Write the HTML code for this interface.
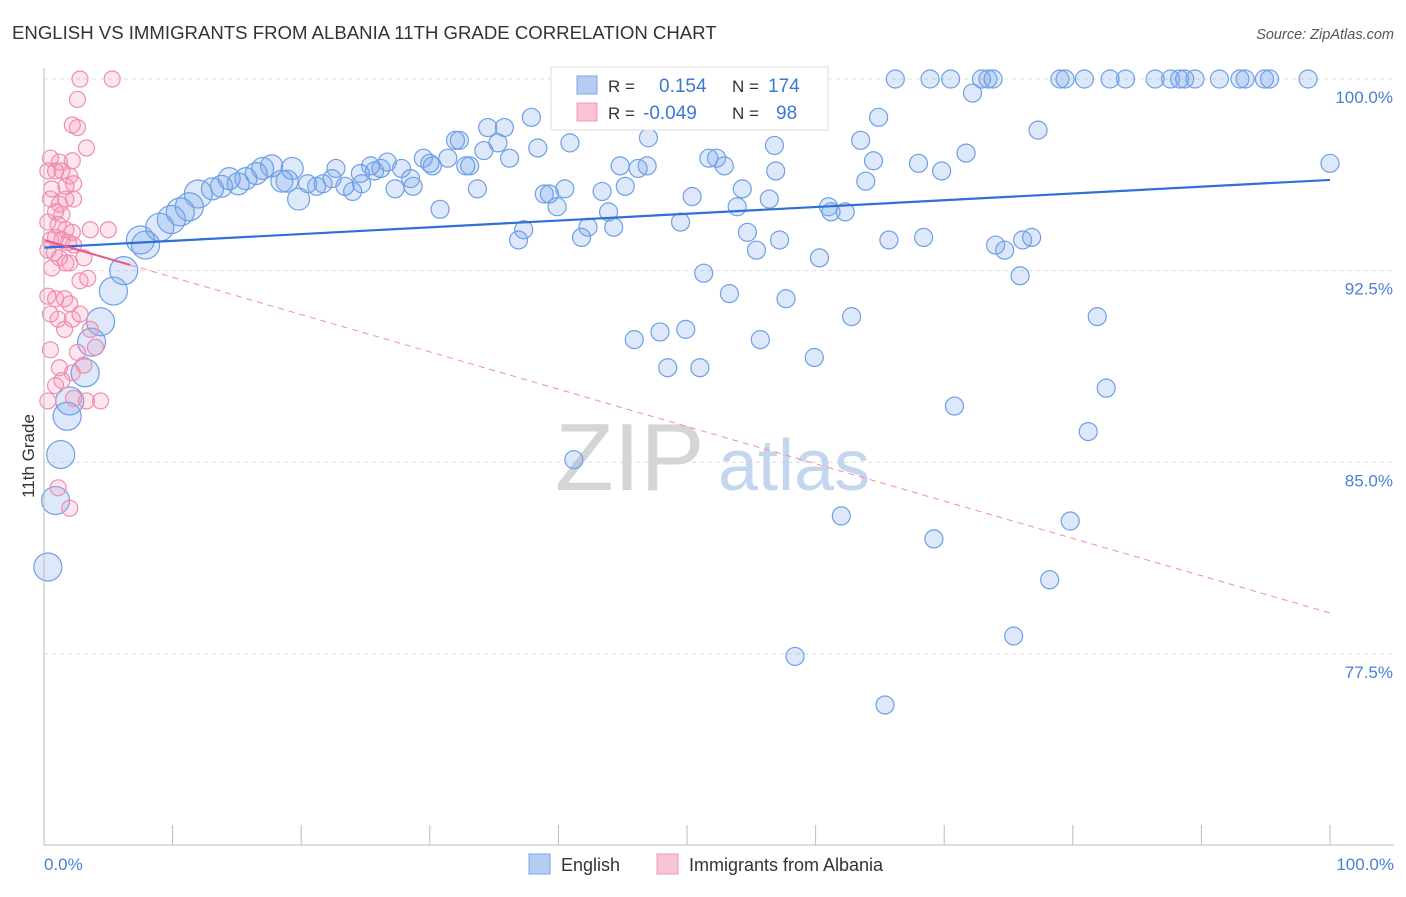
<!DOCTYPE html>
<html><head><meta charset="utf-8"><style>
body{margin:0;background:#fff;font-family:"Liberation Sans",sans-serif;}
svg text{font-family:"Liberation Sans",sans-serif;}
</style></head><body>
<svg id="chart" width="1406" height="892" viewBox="0 0 1406 892" xmlns="http://www.w3.org/2000/svg">
<text x="12" y="39" font-size="18.6" fill="#333">ENGLISH VS IMMIGRANTS FROM ALBANIA 11TH GRADE CORRELATION CHART</text>
<text x="1394" y="39" font-size="14.5" fill="#555" text-anchor="end" font-style="italic">Source: ZipAtlas.com</text>
<g id="grid"></g>
<g>
<text x="555" y="490" font-size="96" fill="#d5d5d5" font-family="Liberation Serif">ZIP</text>
<text x="718" y="490" font-size="72" fill="#c4d6ee">atlas</text>
</g>
<g id="pts"></g>
<g id="trends"></g>
<g id="axes"></g>
<text transform="translate(34,456) rotate(-90)" font-size="17" fill="#333" text-anchor="middle">11th Grade</text>
<g>
<rect x="551" y="67" width="277" height="63" fill="#fff" stroke="#ddd"/>
<rect x="577" y="76" width="20" height="18" fill="#b5cdf3" stroke="#7aa6e8"/>
<rect x="577" y="103" width="20" height="18" fill="#f9c4d5" stroke="#f09ab8"/>
<text x="608" y="92" font-size="17" fill="#333">R =</text>
<text x="659" y="92" font-size="19" fill="#3a78d8">0.154</text>
<text x="732" y="92" font-size="17" fill="#333">N =</text>
<text x="768" y="92" font-size="19" fill="#3a78d8">174</text>
<text x="608" y="119" font-size="17" fill="#333">R =</text>
<text x="643" y="119" font-size="19" fill="#3a78d8">-0.049</text>
<text x="732" y="119" font-size="17" fill="#333">N =</text>
<text x="776" y="119" font-size="19" fill="#3a78d8">98</text>
</g>
<g>
<rect x="529" y="854" width="21" height="20" fill="#b5cdf3" stroke="#7aa6e8"/>
<text x="561" y="871" font-size="18" fill="#333">English</text>
<rect x="657" y="854" width="21" height="20" fill="#f9c4d5" stroke="#f09ab8"/>
<text x="689" y="871" font-size="18" fill="#333">Immigrants from Albania</text>
</g>
</svg>
<script>
const yTicks=[100,92.5,85,77.5];
const yTickLabels=["100.0%","92.5%","85.0%","77.5%"];
const xTickLabels=["0.0%","100.0%"];
const blueX=[66.2,68.9,70.5,72.9,73.4,73.8,79.0,79.4,80.9,82.9,84.1,86.4,87.6,88.3,88.7,89.5,91.4,93.0,93.4,94.9,95.3,98.3,
100,77.3,72.2,71.7,69.8,68.0,64.9,63.5,64.5,63.9,59.4,56.8,56.9,54.3,53.9,56.4,52.3,51.7,52.9,50.4,47.0,46.9,46.2,45.2,44.8,43.4,43.9,44.3,42.3,41.8,40.9,40.5,39.3,39.9,38.9,38.4,37.9,37.3,36.9,36.2,35.8,35.3,34.5,34.2,33.7,33.1,32.8,32.0,32.3,30.8,31.4,30.2,29.5,30.0,28.7,28.5,27.8,27.3,26.7,26.2,25.7,25.4,24.7,24.6,24.0,23.4,22.7,22.4,21.7,21.2,20.5,19.8,19.3,18.9,18.5,17.7,17.0,16.5,15.7,15.1,14.4,13.8,13.1,12.0,11.3,10.6,9.9,9.0,7.9,7.5,6.2,5.4,4.4,3.7,3.2,2.0,1.8,1.3,0.9,0.3,
49.5,45.9,47.9,49.9,48.5,51.0,51.3,53.3,55.7,54.7,55.4,57.2,57.7,59.9,60.3,61.0,61.2,62.3,62.8,65.7,68.4,70.8,62.0,69.2,74.0,74.7,75.9,76.1,76.8,81.9,82.6,81.2,79.8,78.2,75.4,58.4,65.4,41.2];
const blueY=[100,100,100,100,100,100,100,100,100,100,100,100,100,100,100,100,100,100,100,100,100,100,
96.7,98.0,99.45,97.1,96.4,96.7,98.5,97.6,96.8,96.0,99.45,97.4,96.4,95.7,95.0,95.3,96.9,96.9,96.6,95.4,97.7,96.6,96.5,95.8,96.6,95.6,94.8,94.2,94.2,93.8,97.5,95.7,95.5,95.0,95.5,97.3,98.5,94.1,93.7,96.9,98.1,97.5,98.1,97.2,95.7,96.6,96.6,97.6,97.6,94.9,96.9,96.6,96.9,96.7,95.8,96.1,96.5,95.7,96.75,96.5,96.4,96.6,95.9,96.3,95.6,95.8,96.5,96.1,95.9,95.8,95.9,95.3,96.5,96.0,96.0,96.6,96.5,96.3,96.1,95.9,96.1,95.8,95.7,95.5,95.0,94.8,94.5,94.2,93.5,93.7,92.5,91.7,90.5,89.7,88.5,87.4,86.8,85.3,83.5,80.9,
94.4,89.8,90.1,90.2,88.7,88.7,92.4,91.6,89.8,94.0,93.3,93.7,91.4,89.1,93.0,95.0,94.8,94.8,90.7,93.7,93.8,87.2,82.9,82.0,93.5,93.3,92.3,93.7,93.8,90.7,87.9,86.2,82.7,80.4,78.2,77.4,75.5,85.1];
const pinkX=[2.8,5.3,2.6,2.2,2.6,3.3,0.5,1.2,2.2,0.3,0.9,1.4,2.0,0.6,1.7,2.3,0.5,1.2,1.7,2.3,0.9,1.4,0.3,1.1,1.7,2.2,3.6,5.0,0.5,0.9,1.4,1.9,2.3,0.3,0.8,1.2,1.7,0.6,2.0,3.1,3.4,2.8,0.3,0.9,1.6,2.0,0.5,1.1,1.6,2.2,2.8,3.6,0.5,2.6,4.0,1.2,2.2,3.1,0.9,1.4,0.3,2.3,3.3,4.4,1.1,2.0];
const pinkY=[100,100,99.2,98.2,98.1,97.3,96.9,96.75,96.8,96.4,96.4,96.4,96.2,95.7,95.8,95.9,95.3,95.1,95.3,95.3,94.8,94.7,94.4,94.3,94.1,94.0,94.1,94.1,93.7,93.8,93.7,93.6,93.5,93.3,93.2,93.0,92.8,92.6,92.8,93.0,92.2,92.1,91.5,91.4,91.4,91.2,90.8,90.6,90.2,90.6,90.8,90.2,89.4,89.3,89.5,88.7,88.5,88.8,88.0,88.2,87.4,87.5,87.4,87.4,84.0,83.2];
const blueTrend=[93.4,96.05];
const pinkTrend=[93.7,79.1];
const pinkSolidEnd=6.7;
const NS="http://www.w3.org/2000/svg";
const X=v=>44+v*12.86, Y=v=>79+(100-v)*25.55;
function mk(tag,attrs,parent){const e=document.createElementNS(NS,tag);for(const k in attrs)e.setAttribute(k,attrs[k]);parent.appendChild(e);return e;}
const grid=document.getElementById('grid'),axes=document.getElementById('axes'),pts=document.getElementById('pts'),tr=document.getElementById('trends');
yTicks.forEach((t,i)=>{
 const l=mk('line',{x1:44,x2:1394,y1:Y(t),y2:Y(t),stroke:'#ddd','stroke-dasharray':'4 4'},grid);
 
 
 const tx=mk('text',{x:1393,y:Y(t)+24,'font-size':17,fill:'#4a7fd4','text-anchor':'end'},axes);
 tx.textContent=yTickLabels[i];
 
 
});
const ax=mk('line',{x1:44,x2:44,y1:68,y2:845,stroke:'#bbb'},axes);


const bx=mk('line',{x1:44,x2:1394,y1:845,y2:845,stroke:'#bbb'},axes);


for(let i=0;i<=10;i++){
 const t=mk('line',{x1:X(i*10),x2:X(i*10),y1:825,y2:845,stroke:'#bbb'},axes);
 
 
}
[[0,'start',44],[1,'end',1394]].forEach(([i,a,x])=>{
 const t=mk('text',{x:x,y:870,'font-size':17,fill:'#4a7fd4','text-anchor':a},axes);
 t.textContent=xTickLabels[i];
 
 
});
blueX.forEach((x,i)=>{
 const r=x<13?14:(x<20?11:9);
 const c=mk('circle',{cx:X(x),cy:Y(blueY[i]),r:r,fill:'rgba(120,165,235,0.25)',stroke:'#6e9fe6','stroke-width':1.2},pts);
 
 
});
pinkX.forEach((x,i)=>{
 const c=mk('circle',{cx:X(x),cy:Y(pinkY[i]),r:8,fill:'rgba(245,140,175,0.22)',stroke:'#f08cb0','stroke-width':1.2},pts);
 
 
});
const bt=mk('line',{x1:X(0),y1:Y(blueTrend[0]),x2:X(100),y2:Y(blueTrend[1]),stroke:'#2f6fd6','stroke-width':2.2},tr);


const pv=x=>pinkTrend[0]+(pinkTrend[1]-pinkTrend[0])*x/100;
const pd=mk('line',{x1:X(pinkSolidEnd),y1:Y(pv(pinkSolidEnd)),x2:X(100),y2:Y(pinkTrend[1]),stroke:'#f08cb0','stroke-width':1,'stroke-dasharray':'6 5'},tr);


const ps=mk('line',{x1:X(0),y1:Y(pinkTrend[0]),x2:X(pinkSolidEnd),y2:Y(pv(pinkSolidEnd)),stroke:'#e8578a','stroke-width':2},tr);


</script>
</body></html>
